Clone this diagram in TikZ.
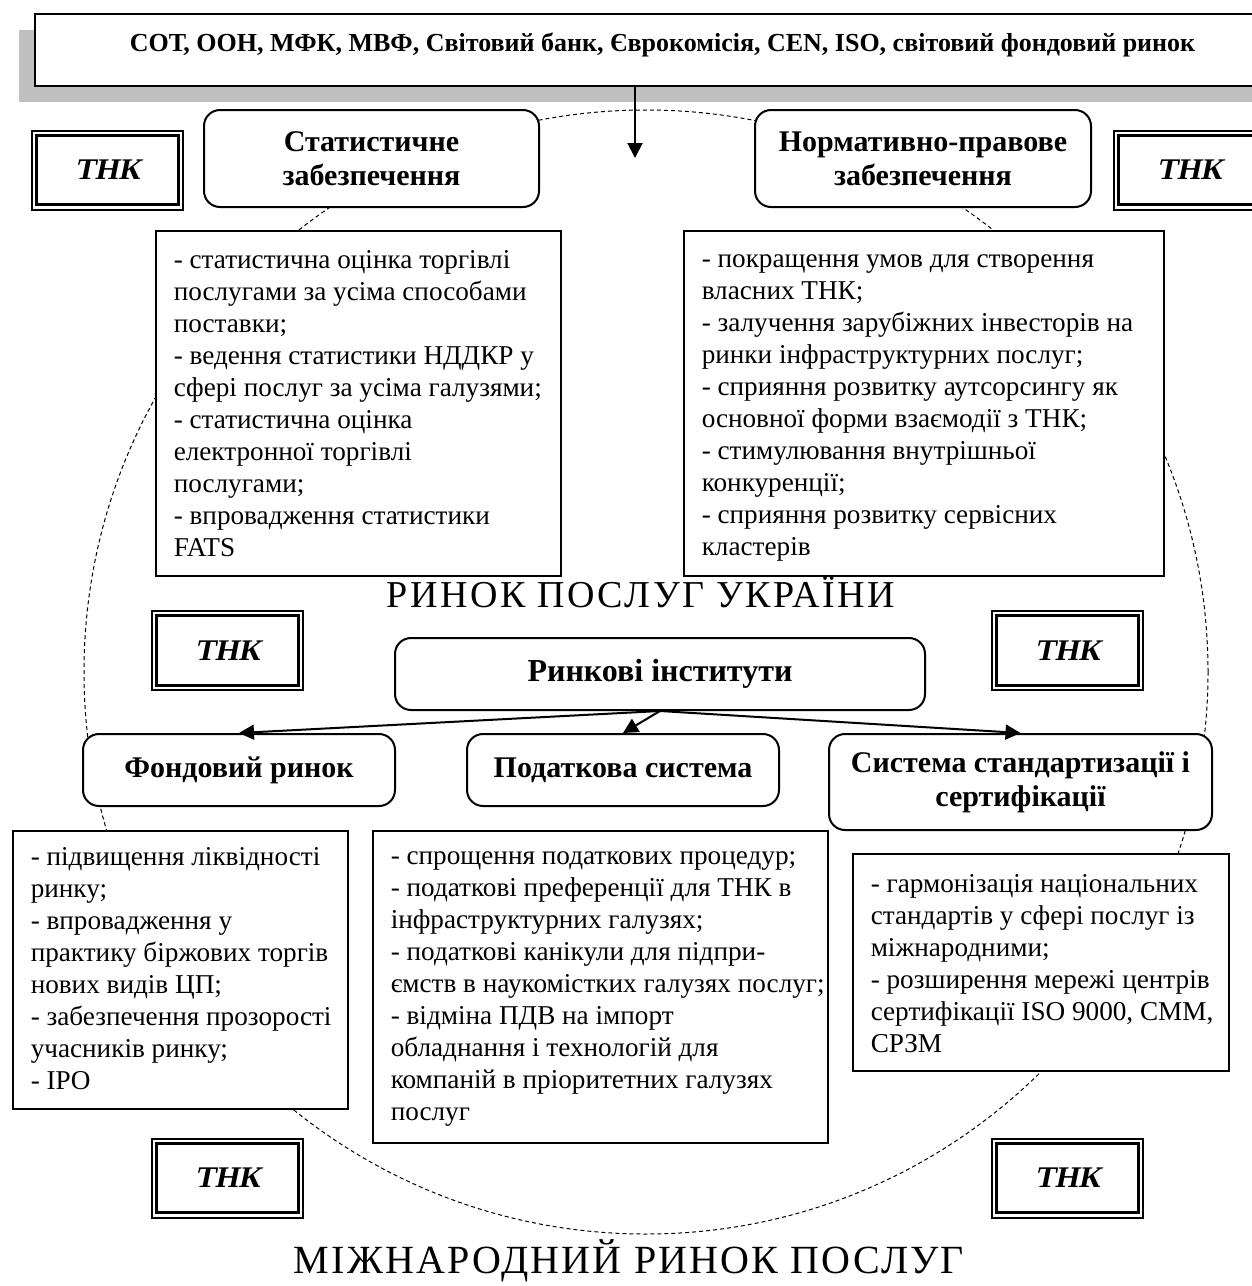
\documentclass[tikz,border=0pt]{standalone}
\usepackage{fontspec}
\setmainfont{Liberation Serif}
\newfontfamily\spacedfont[LetterSpace=6.6]{Liberation Serif}
\newfontfamily\spacedfontB[LetterSpace=5.5]{Liberation Serif}
\newfontfamily\tnkfont[FakeSlant=0.2]{Liberation Serif}
\usetikzlibrary{arrows.meta,calc}
\definecolor{shadowgray}{RGB}{192,192,192}
\newcommand{\txtbox}[4]{\parbox[c][#2][t]{#1}{\vspace*{#3}\begin{tabular}{@{}l@{}}#4\end{tabular}}}
\newcommand{\tnkbox}[3]{%
  \node[tnk] (#1) at (#2,#3) {ТНК};
  \draw[line width=1.5pt] ([shift={(2.8pt,-2.8pt)}]#1.north west) rectangle ([shift={(-2.8pt,2.8pt)}]#1.south east);}
\begin{document}
\begin{tikzpicture}[x=0.5pt,y=-0.5pt,
  tbox/.style={draw, line width=0.75pt, fill=white, anchor=north west, inner xsep=9pt, inner ysep=0pt, font=\fontsize{13.6pt}{16pt}\selectfont},
  rbox/.style={draw, line width=1pt, fill=white, rounded corners=8pt, align=center, inner sep=0pt, font=\fontsize{15pt}{17pt}\selectfont\bfseries},
  tnk/.style={draw, line width=1pt, fill=white, minimum width=75.5pt, minimum height=39.5pt, inner sep=0pt, font=\tnkfont\fontsize{15pt}{17pt}\selectfont\bfseries},
  arr/.style={line width=1pt, -{Triangle[length=7.5pt,width=7.5pt]}},
  circ/.style={dash pattern=on 2pt off 1.5pt, line width=0.5pt}
]
\useasboundingbox (0,0) rectangle (1252,1286);
\clip (0,0) rectangle (1252,1286);

% dashed circle (market of Ukraine)
\draw[circ] (646,672) circle[radius=281pt];

% top organisations bar with shadow
\fill[shadowgray] (19,30) rectangle (1300,102);
\node[draw, line width=1pt, fill=white, minimum width=627.5pt, minimum height=36pt, inner sep=0pt,
      font=\fontsize{13pt}{15pt}\selectfont\bfseries, text height=9.2pt, text depth=8pt]
  (org) at (662.5,50) {СОТ, ООН, МФК, МВФ, Світовий банк, Єврокомісія, CEN, ISO, світовий фондовий ринок};
\coordinate (arrtip) at (635,158);
\draw[arr] (org.south -| arrtip) -- (arrtip);

% TNC boxes
\tnkbox{tnkA}{107.5}{170}
\tnkbox{tnkB}{1189.5}{170}
\tnkbox{tnkC}{227.5}{650.5}
\tnkbox{tnkD}{1067.5}{650.5}
\tnkbox{tnkE}{227.5}{1178}
\tnkbox{tnkF}{1067.5}{1178}

% upper headings
\node[rbox, minimum width=167.5pt, minimum height=48.5pt] (stat) at (371.5,158.5) {Статистичне\\забезпечення};
\node[rbox, minimum width=168pt, minimum height=48.5pt] (norm) at (923,158.5) {Нормативно-правове\\забезпечення};

% upper text boxes
\node[tbox] (statT) at (155,230) {\txtbox{184.5pt}{172.5pt}{7.5pt}{%
- статистична оцінка торгівлі\\
послугами за усіма способами\\
поставки;\\
- ведення статистики НДДКР у\\
сфері послуг за усіма галузями;\\
- статистична оцінка\\
електронної торгівлі\\
послугами;\\
- впровадження статистики\\
FATS}};
\node[tbox] (normT) at (683,230) {\txtbox{222pt}{172.5pt}{7pt}{%
- покращення умов для створення\\
власних ТНК;\\
- залучення зарубіжних інвесторів на\\
ринки інфраструктурних послуг;\\
- сприяння розвитку аутсорсингу як\\
основної форми взаємодії з ТНК;\\
- стимулювання внутрішньої\\
конкуренції;\\
- сприяння розвитку сервісних\\
кластерів}};

% title inside circle
\node[font={\spacedfont\fontsize{19pt}{21pt}\selectfont}, inner sep=0pt] (ukr) at (641,592) {РИНОК ПОСЛУГ УКРАЇНИ};

% market institutions
\node[rbox, font=\fontsize{16pt}{18pt}\selectfont\bfseries, minimum width=265pt, minimum height=36pt] (rinst) at (660,674) {Ринкові інститути};
\node[rbox, minimum width=156pt, minimum height=36pt] (fond) at (239,770) {Фондовий ринок};
\node[rbox, minimum width=156pt, minimum height=36pt] (pod) at (623,770) {Податкова система};
\node[rbox, minimum width=191.5pt, minimum height=48pt] (sys) at (1020.5,782) {Система стандартизації і\\сертифікації};
\draw[arr] (rinst.south) -- (fond.north);
\draw[arr] (rinst.south) -- (pod.north);
\draw[arr] (rinst.south) -- (sys.north);

% lower text boxes
\node[tbox] (fondT) at (12,830) {\txtbox{149.5pt}{139pt}{6.3pt}{%
- підвищення ліквідності\\
ринку;\\
- впровадження у\\
практику біржових торгів\\
нових видів ЦП;\\
- забезпечення прозорості\\
учасників ринку;\\
- IPO}};
\node[tbox] (podT) at (372,830) {\txtbox{209.5pt}{156pt}{5.5pt}{%
- спрощення податкових процедур;\\
- податкові преференції для ТНК в\\
інфраструктурних галузях;\\
- податкові канікули для підпри-\\
ємств в наукомістких галузях послуг;\\
- відміна ПДВ на імпорт\\
обладнання і технологій для\\
компаній в пріоритетних галузях\\
послуг}};
\node[tbox] (sysT) at (852,853) {\txtbox{170pt}{108.5pt}{8pt}{%
- гармонізація національних\\
стандартів у сфері послуг із\\
міжнародними;\\
- розширення мережі центрів\\
сертифікації ISO 9000, CMM,\\
СРЗМ}};

% bottom title
\node[font={\spacedfontB\fontsize{20pt}{22pt}\selectfont}, inner sep=0pt] (intl) at (629,1261) {МІЖНАРОДНИЙ РИНОК ПОСЛУГ};
\end{tikzpicture}
\end{document}
